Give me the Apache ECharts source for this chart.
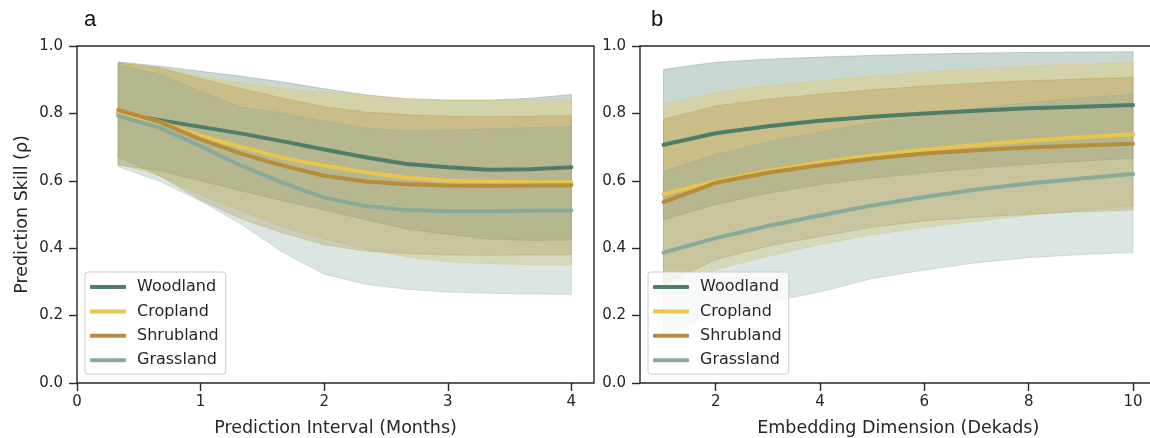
<!DOCTYPE html>
<html>
<head>
<meta charset="utf-8">
<title>Prediction skill by land cover</title>
<script src="https://cdn.jsdelivr.net/npm/echarts@6/dist/echarts.min.js"></script>
<style>
  html, body { margin: 0; padding: 0; background: #ffffff; }
  #chart { width: 1150px; height: 438px; }
</style>
</head>
<body>
<div id="chart"></div>
<script>
// ---- shared labels ----
const landCovers = ['Woodland', 'Cropland', 'Shrubland', 'Grassland'];
const yTicks = [0, 0.2, 0.4, 0.6, 0.8, 1.0];
const monthTicks = [0, 1, 2, 3, 4];
const dekadTicks = [2, 4, 6, 8, 10];

// ---- panel a: prediction interval (months) ----
const monthsX = [0.333, 0.667, 1.0, 1.333, 1.667, 2.0, 2.333, 2.667, 3.0, 3.333, 3.667, 4.0];

const woodA    = [0.800, 0.780, 0.760, 0.740, 0.717, 0.693, 0.670, 0.650, 0.640, 0.633, 0.634, 0.640];
const woodAHi  = [0.953, 0.940, 0.925, 0.910, 0.893, 0.873, 0.855, 0.843, 0.839, 0.839, 0.845, 0.856];
const woodALo  = [0.647, 0.630, 0.600, 0.570, 0.541, 0.513, 0.485, 0.457, 0.441, 0.427, 0.423, 0.424];

const cropA    = [0.800, 0.775, 0.733, 0.700, 0.668, 0.645, 0.625, 0.609, 0.600, 0.597, 0.596, 0.596];
const cropAHi  = [0.950, 0.935, 0.908, 0.890, 0.873, 0.863, 0.853, 0.844, 0.840, 0.840, 0.841, 0.842];
const cropALo  = [0.650, 0.615, 0.558, 0.510, 0.463, 0.427, 0.397, 0.374, 0.360, 0.354, 0.351, 0.350];

const shrubA   = [0.810, 0.775, 0.723, 0.680, 0.645, 0.615, 0.598, 0.590, 0.586, 0.585, 0.586, 0.587];
const shrubAHi = [0.950, 0.935, 0.903, 0.873, 0.845, 0.820, 0.804, 0.796, 0.792, 0.791, 0.792, 0.793];
const shrubALo = [0.670, 0.615, 0.543, 0.487, 0.445, 0.410, 0.392, 0.384, 0.380, 0.379, 0.380, 0.381];

const grassA   = [0.793, 0.758, 0.703, 0.644, 0.594, 0.550, 0.525, 0.513, 0.510, 0.510, 0.511, 0.512];
const grassAHi = [0.944, 0.917, 0.866, 0.818, 0.801, 0.777, 0.757, 0.748, 0.750, 0.754, 0.758, 0.761];
const grassALo = [0.642, 0.599, 0.540, 0.470, 0.387, 0.323, 0.293, 0.278, 0.270, 0.266, 0.264, 0.263];

// ---- panel b: embedding dimension (dekads) ----
const dekadsX = [1, 2, 3, 4, 5, 6, 7, 8, 9, 10];

const woodB    = [0.707, 0.741, 0.762, 0.778, 0.790, 0.800, 0.808, 0.815, 0.820, 0.825];
const woodBHi  = [0.930, 0.952, 0.961, 0.967, 0.972, 0.976, 0.979, 0.981, 0.982, 0.983];
const woodBLo  = [0.484, 0.530, 0.563, 0.589, 0.608, 0.624, 0.637, 0.649, 0.658, 0.667];

const cropB    = [0.560, 0.599, 0.629, 0.654, 0.675, 0.692, 0.706, 0.719, 0.729, 0.738];
const cropBHi  = [0.827, 0.862, 0.882, 0.897, 0.910, 0.922, 0.932, 0.940, 0.946, 0.951];
const cropBLo  = [0.293, 0.336, 0.376, 0.411, 0.440, 0.462, 0.480, 0.498, 0.512, 0.525];

const shrubB   = [0.537, 0.594, 0.624, 0.646, 0.666, 0.681, 0.691, 0.699, 0.705, 0.710];
const shrubBHi = [0.783, 0.822, 0.842, 0.857, 0.870, 0.881, 0.890, 0.897, 0.902, 0.907];
const shrubBLo = [0.291, 0.366, 0.406, 0.435, 0.462, 0.481, 0.492, 0.501, 0.508, 0.513];

const grassB   = [0.387, 0.430, 0.466, 0.497, 0.527, 0.552, 0.574, 0.592, 0.607, 0.620];
const grassBHi = [0.629, 0.678, 0.715, 0.745, 0.772, 0.795, 0.815, 0.832, 0.846, 0.857];
const grassBLo = [0.145, 0.200, 0.240, 0.270, 0.310, 0.335, 0.357, 0.372, 0.381, 0.387];

// ---- styling ----
const colors = {
  Woodland:  [78, 126, 105],
  Cropland:  [232, 197, 76],
  Shrubland: [182, 141, 60],
  Grassland: [136, 170, 155]
};
const FONT = '"DejaVu Sans", sans-serif';
const INK = '#262626';
const rgba = (c, a) => `rgba(${c[0]},${c[1]},${c[2]},${a})`;

const panels = [
  { xs: monthsX, mean: [woodA, cropA, shrubA, grassA],
    hi: [woodAHi, cropAHi, shrubAHi, grassAHi], lo: [woodALo, cropALo, shrubALo, grassALo] },
  { xs: dekadsX, mean: [woodB, cropB, shrubB, grassB],
    hi: [woodBHi, cropBHi, shrubBHi, grassBHi], lo: [woodBLo, cropBLo, shrubBLo, grassBLo] }
];

// Shaded spread band drawn as a polygon through the axis coordinate system
function bandSeries(panelIdx, k) {
  const p = panels[panelIdx];
  const c = colors[landCovers[k]];
  const xs = p.xs, hi = p.hi[k], lo = p.lo[k];
  return {
    type: 'custom',
    name: landCovers[k] + ' spread',
    xAxisIndex: panelIdx, yAxisIndex: panelIdx,
    silent: true, z: 1 + k * 0.01,
    clip: true,
    data: [[xs[0], lo[0]]],
    renderItem: function (params, api) {
      const pts = [];
      for (let i = 0; i < xs.length; i++) pts.push(api.coord([xs[i], hi[i]]));
      for (let i = xs.length - 1; i >= 0; i--) pts.push(api.coord([xs[i], lo[i]]));
      return {
        type: 'polygon',
        shape: { points: pts },
        style: { fill: rgba(c, 0.3), stroke: rgba(c, 0.3), lineWidth: 1 }
      };
    }
  };
}

function lineSeries(panelIdx, k) {
  const p = panels[panelIdx];
  const c = colors[landCovers[k]];
  return {
    type: 'line',
    name: landCovers[k],
    xAxisIndex: panelIdx, yAxisIndex: panelIdx,
    data: p.xs.map((x, i) => [x, p.mean[k][i]]),
    showSymbol: false, symbol: 'none',
    color: rgba(c, 1),
    lineStyle: { width: 4, color: rgba(c, 1), cap: 'round', join: 'round' },
    z: 5, silent: true, animation: false
  };
}

const series = [];
for (let pi = 0; pi < 2; pi++) {
  for (let k = 0; k < 4; k++) series.push(bandSeries(pi, k));
}
for (let pi = 0; pi < 2; pi++) {
  for (let k = 0; k < 4; k++) series.push(lineSeries(pi, k));
}

function xAxisCfg(idx, min, max, ticks, title) {
  return {
    type: 'value', gridIndex: idx, min: min, max: max,
    axisLine: { show: false },
    axisTick: { show: true, customValues: ticks, length: 8, lineStyle: { color: INK, width: 1.4 } },
    axisLabel: { customValues: ticks, margin: 12, color: INK, fontSize: 15, fontFamily: FONT },
    splitLine: { show: false },
    name: title, nameLocation: 'middle', nameGap: 36,
    nameTextStyle: { color: INK, fontSize: 17.5, fontFamily: FONT }
  };
}
function yAxisCfg(idx, title) {
  return {
    type: 'value', gridIndex: idx, min: 0, max: 1, interval: 0.2,
    axisLine: { show: false },
    axisTick: { show: true, length: 8, lineStyle: { color: INK, width: 1.4 } },
    axisLabel: { margin: 14, color: INK, fontSize: 15, fontFamily: FONT,
                 formatter: v => v.toFixed(1) },
    splitLine: { show: false },
    name: title, nameLocation: 'middle', nameGap: 46, nameRotate: 90,
    nameTextStyle: { color: INK, fontSize: 17.5, fontFamily: FONT }
  };
}

function legendCfg(left) {
  return {
    left: left, top: 272, orient: 'vertical',
    data: landCovers,
    icon: 'roundRect', itemWidth: 36, itemHeight: 4, itemGap: 4.4,
    padding: [5, 7, 4, 5],
    backgroundColor: 'rgba(255,255,255,0.8)',
    borderColor: '#cccccc', borderWidth: 1, borderRadius: 3,
    selectedMode: false,
    textStyle: { color: INK, fontSize: 16, fontFamily: FONT, lineHeight: 20, padding: [0, 0, 0, 6] }
  };
}

const gridBase = { top: 46, height: 337, show: true, borderColor: INK, borderWidth: 1.4,
                   backgroundColor: 'transparent', outerBoundsMode: 'none', containLabel: false };

const chart = echarts.init(document.getElementById('chart'), null, { renderer: 'canvas' });
chart.setOption({
  animation: false,
  backgroundColor: '#ffffff',
  grid: [
    Object.assign({ left: 77, width: 517 }, gridBase),
    Object.assign({ left: 640, width: 516.5 }, gridBase)
  ],
  xAxis: [
    xAxisCfg(0, 0, 4.183, monthTicks, 'Prediction Interval (Months)'),
    xAxisCfg(1, 0.55, 10.45, dekadTicks, 'Embedding Dimension (Dekads)')
  ],
  yAxis: [
    yAxisCfg(0, 'Prediction Skill (ρ)'),
    yAxisCfg(1, '')
  ],
  legend: [legendCfg(85), legendCfg(648)],
  graphic: [
    { type: 'text', left: 84, top: 9, style: { text: 'a', fontSize: 22, fontFamily: '"Liberation Sans", Arial, sans-serif', fill: '#111' } },
    { type: 'text', left: 651, top: 9, style: { text: 'b', fontSize: 22, fontFamily: '"Liberation Sans", Arial, sans-serif', fill: '#111' } }
  ],
  series: series
});
</script>
</body>
</html>
